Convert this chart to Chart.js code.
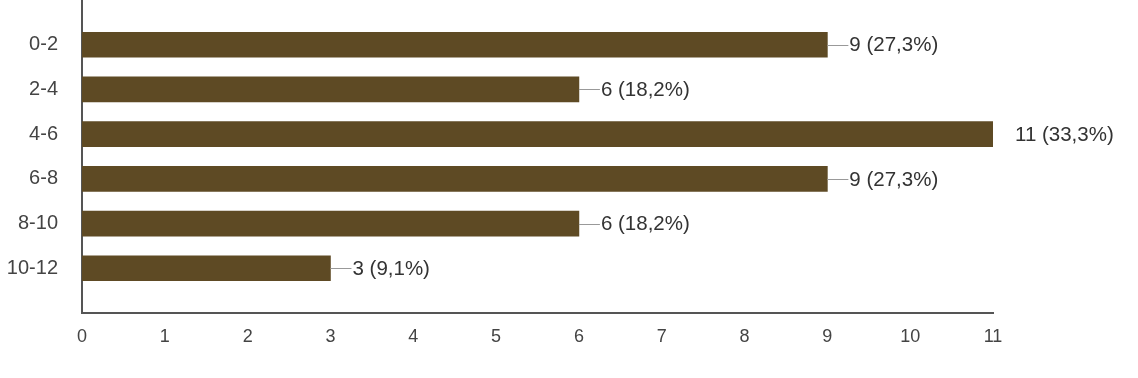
<!DOCTYPE html>
<html>
<head>
<meta charset="utf-8">
<script src="https://cdn.jsdelivr.net/npm/chart.js@4"></script>
<style>
  html, body { margin: 0; padding: 0; background: #fff; }
  #wrap { width: 1138px; height: 378px; }
</style>
</head>
<body>
<div id="wrap"><canvas id="grafico" width="1138" height="378"></canvas></div>
<script>
// ---- datos ----
let categorias = ['0-2', '2-4', '4-6', '6-8', '8-10', '10-12'];
let valores = [9, 6, 11, 9, 6, 3];
let ticksX = [0, 1, 2, 3, 4, 5, 6, 7, 8, 9, 10, 11];
let encuestados = 33; // los porcentajes son sobre 33 respuestas

// bars on a linear y axis: positions 1..6 leave one empty band above and below
let puntos = valores.map((v, i) => ({ x: v, y: i + 1 }));

// ---- etiquetas con linea guia ----
const etiquetas = {
  id: 'etiquetas',
  afterDatasetsDraw(chart) {
    const ctx = chart.ctx;
    const area = chart.chartArea;
    const meta = chart.getDatasetMeta(0);
    ctx.save();
    meta.data.forEach((bar, i) => {
      let xFin = Math.min(bar.x + 21, area.right);
      if (xFin > bar.x + 1) {
        ctx.strokeStyle = '#999';
        ctx.lineWidth = 1;
        ctx.beginPath();
        ctx.moveTo(bar.x, Math.round(bar.y) + 0.5);
        ctx.lineTo(xFin, Math.round(bar.y) + 0.5);
        ctx.stroke();
      }
      let pct = (valores[i] / encuestados * 100).toFixed(1).replace('.', ',');
      ctx.fillStyle = '#333';
      ctx.font = '20.5px "Liberation Sans", Arial, sans-serif';
      ctx.textAlign = 'left';
      ctx.textBaseline = 'middle';
      ctx.fillText(valores[i] + ' (' + pct + '%)', bar.x + 22, bar.y + 1);
    });
    ctx.restore();
  }
};

let ctx = document.querySelector('#grafico');
let grafico = new Chart(ctx, {
  type: 'bar',
  data: {
    datasets: [{
      data: puntos,
      backgroundColor: '#5e4a24',
      borderWidth: 0,
      barThickness: 25
    }]
  },
  options: {
    indexAxis: 'y',
    responsive: false,
    animation: false,
    layout: { padding: { top: 0, right: 145, bottom: 0, left: 0 } },
    plugins: {
      legend: { display: false },
      tooltip: { enabled: false }
    },
    scales: {
      x: {
        type: 'linear',
        min: ticksX[0],
        max: ticksX[ticksX.length - 1],
        afterFit: function (scale) { scale.height = 65; },
        grid: { display: false, drawTicks: false },
        border: { display: true, color: '#555', width: 2 },
        ticks: {
          stepSize: 1,
          padding: 13,
          color: '#444',
          font: { family: '"Liberation Sans", Arial, sans-serif', size: 18 },
          callback: function (v) { return ticksX.includes(v) ? String(v) : ''; }
        }
      },
      y: {
        type: 'linear',
        reverse: true,
        offset: false,
        min: 0,
        max: categorias.length + 1,
        afterFit: function (scale) {
          scale.width = 82;
          scale.paddingTop = 0;
          scale.paddingBottom = 0;
        },
        grid: { display: false, drawTicks: false },
        border: { display: true, color: '#555', width: 2 },
        ticks: {
          stepSize: 1,
          padding: 24,
          color: '#444',
          font: { family: '"Liberation Sans", Arial, sans-serif', size: 20 },
          callback: function (v) { return categorias[v - 1] || ''; }
        }
      }
    }
  },
  plugins: [etiquetas]
});
</script>
</body>
</html>
